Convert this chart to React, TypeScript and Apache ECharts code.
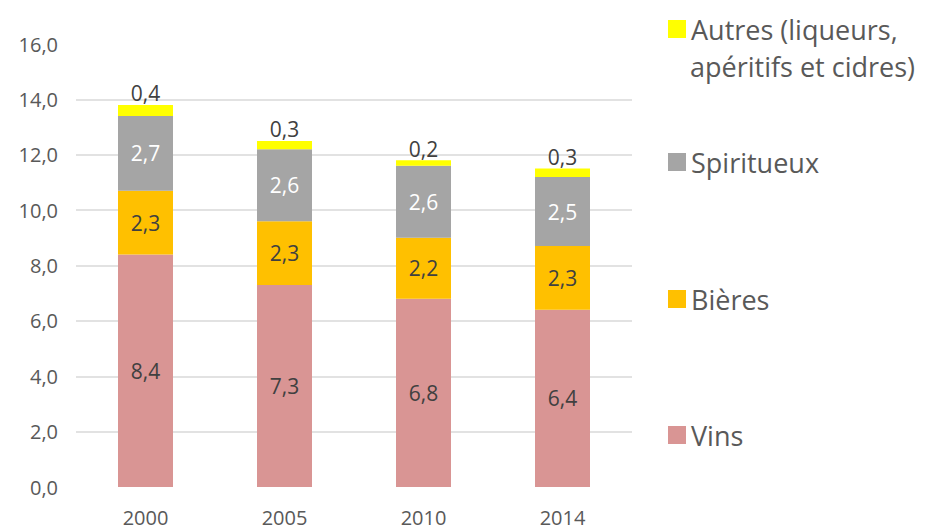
import React, { useEffect, useRef } from "react";
import * as echarts from "echarts";

const categories = ["2000", "2005", "2010", "2014"];
const vins = [8.4, 7.3, 6.8, 6.4];
const bieres = [2.3, 2.3, 2.2, 2.3];
const spiritueux = [2.7, 2.6, 2.6, 2.5];
const autres = [0.4, 0.3, 0.2, 0.3];

const seriesNames = ["Vins", "Bières", "Spiritueux", "Autres (liqueurs, apéritifs et cidres)"];
const autresLine1 = "Autres (liqueurs,";
const autresLine2 = "apéritifs et cidres)";
const seriesColors = ["#d99594", "#ffc000", "#a5a5a5", "#ffff00"];

const FONT = "Open Sans";
const fmt = (v: number) => v.toFixed(1).replace(".", ",");

export default function App() {
  const ref = useRef<HTMLDivElement>(null);
  useEffect(() => {
    if (!ref.current) return;
    const chart = echarts.init(ref.current, null, { renderer: "svg" });
    const dataSets = [vins, bieres, spiritueux, autres];
    const labelColors = ["#404040", "#404040", "#ffffff", "#404040"];
    const legendTops = [415, 279, 142, 9];
    chart.setOption({
      animation: false,
      backgroundColor: "#ffffff",
      grid: { left: 76, right: 296, top: 44, bottom: 42 },
      legend: seriesNames.map((n, i) => ({
        data: [n],
        orient: "vertical",
        left: 663,
        top: legendTops[i],
        icon: "rect",
        itemWidth: 18,
        itemHeight: 18,
        itemGap: 8,
        selectedMode: false,
        formatter: (name: string) => (i === 3 ? autresLine1 : name),
        textStyle: { fontFamily: FONT, fontSize: 27, color: "#595959", lineHeight: 30 },
      })),
      graphic: [
        {
          type: "text",
          left: 690,
          top: 53,
          style: {
            text: autresLine2,
            fontFamily: FONT,
            fontSize: 27,
            fill: "#595959",
          },
        },
      ],
      xAxis: {
        type: "category",
        data: categories,
        axisLine: { show: false },
        axisTick: { show: false },
        axisLabel: { fontFamily: FONT, fontSize: 20, color: "#595959", margin: 20 },
      },
      yAxis: {
        type: "value",
        min: 0,
        max: 16,
        interval: 2,
        axisLine: { show: false },
        axisTick: { show: false },
        axisLabel: {
          fontFamily: FONT,
          fontSize: 20,
          color: "#595959",
          margin: 18,
          formatter: (v: number) => fmt(v),
        },
        splitLine: {
          lineStyle: {
            color: ["transparent", "#d9d9d9", "#d9d9d9", "#d9d9d9", "#d9d9d9", "#d9d9d9", "#d9d9d9", "#d9d9d9", "transparent"],
            width: 1.5,
          },
        },
      },
      series: dataSets.map((d, i) => ({
        name: seriesNames[i],
        type: "bar",
        stack: "total",
        data: d,
        barWidth: 55,
        itemStyle: { color: seriesColors[i] },
        label: {
          show: true,
          position: i === 3 ? "top" : "inside",
          distance: 1,
          fontFamily: FONT,
          fontSize: 21,
          color: labelColors[i],
          formatter: (p: any) => fmt(p.value),
        },
      })),
    });
    return () => chart.dispose();
  }, []);
  return <div ref={ref} style={{ width: 928, height: 529, position: "absolute", left: 0, top: 0 }} />;
}
